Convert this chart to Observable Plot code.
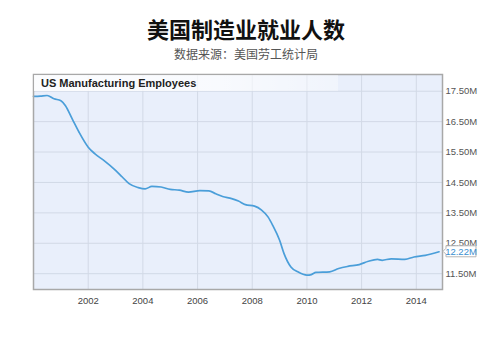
<!DOCTYPE html>
<html><head><meta charset="utf-8">
<script src="https://cdn.jsdelivr.net/npm/d3@7"></script>
<script src="https://cdn.jsdelivr.net/npm/@observablehq/plot@0.6"></script>
<style>
body{margin:0;background:#fff;}
#wrap{position:relative;width:500px;height:346px;overflow:hidden;font-family:"Liberation Sans",Arial,sans-serif;}
#title{position:absolute;top:16px;left:0;width:492px;text-align:center;font-weight:bold;font-size:22px;font-family:"Noto Sans CJK SC",sans-serif;color:#111;line-height:24px;}
#subtitle{position:absolute;top:47px;left:0;width:492px;text-align:center;font-size:12px;font-family:"Noto Sans CJK SC",sans-serif;color:#555;line-height:13px;}
#chart{position:absolute;top:66px;left:0;}
</style>
</head><body>
<div id="wrap">
  <div id="title">美国制造业就业人数</div>
  <div id="subtitle">数据来源：美国劳工统计局</div>
  <div id="chart"></div>
</div>
<script>
const chartLabel = "US Manufacturing Employees";
const months = ["2000-01","2000-04","2000-07","2000-10","2001-01","2001-03","2001-06","2001-09","2002-01","2002-04","2002-08","2003-01","2003-04","2003-07","2003-11","2004-02","2004-05","2004-09","2005-01","2005-05","2005-09","2006-02","2006-06","2006-09","2006-12","2007-04","2007-07","2007-10","2008-02","2008-05","2008-08","2008-10","2009-01","2009-03","2009-06","2009-09","2010-01","2010-03","2010-05","2010-11","2011-03","2011-07","2011-12","2012-04","2012-08","2012-10","2013-02","2013-08","2013-12","2014-05","2014-11"];
const employees = [17.33,17.34,17.36,17.25,17.19,17.03,16.59,16.15,15.66,15.44,15.22,14.90,14.68,14.46,14.33,14.29,14.37,14.35,14.27,14.25,14.18,14.23,14.22,14.13,14.04,13.97,13.89,13.77,13.72,13.60,13.36,13.09,12.60,12.16,11.72,11.56,11.45,11.47,11.54,11.56,11.67,11.74,11.80,11.91,11.97,11.94,11.99,11.97,12.05,12.10,12.22];
const yTicks = [11.5,12.5,13.5,14.5,15.5,16.5,17.5];
const xTickYears = [2002,2004,2006,2008,2010,2012,2014];
const lastLabel = "12.22M";

const parse = d3.utcParse("%Y-%m");
const data = months.map((m,i)=>({date:parse(m), value:employees[i]}));
const xTicks = xTickYears.map(y=>new Date(Date.UTC(y,0,1)));
const M = {top:8, right:58, bottom:57, left:33};

const chart = Plot.plot({
  width:500, height:280,
  marginTop:M.top, marginBottom:M.bottom, marginLeft:M.left, marginRight:M.right,
  style:{fontFamily:"Liberation Sans, Arial, sans-serif", background:"transparent"},
  x:{type:"utc", domain:[new Date(Date.UTC(2000,0,1)), new Date(Date.UTC(2014,11,17))]},
  y:{domain:[10.98,18.05]},
  marks:[
    Plot.frame({fill:"#e9effb", stroke:null}),
    Plot.gridY(yTicks,{stroke:"#d2d9e6", strokeOpacity:1}),
    Plot.gridX(xTicks,{stroke:"#d2d9e6", strokeOpacity:1}),
    Plot.line(data,{x:"date", y:"value", stroke:"#4a9ed9", strokeWidth:1.7, curve:"monotone-x"}),
    Plot.frame({stroke:"#a8a8a8", strokeWidth:1.5}),
    Plot.axisY(yTicks,{anchor:"right", tickSize:0, tickPadding:3, tickFormat:d=>d.toFixed(2)+"M", fill:"#555", fontSize:9.5, label:null}),
    Plot.axisX(xTicks,{anchor:"bottom", tickSize:0, tickPadding:8, tickFormat:d=>String(d.getUTCFullYear()), fill:"#444", fontSize:9.5, label:null})
  ]
});
document.getElementById("chart").appendChild(chart);

const svg = d3.select(chart);
const ys = chart.scale("y");
const defs = svg.append("defs");
const g = defs.append("linearGradient").attr("id","hdr").attr("x1","0").attr("x2","1").attr("y1","0").attr("y2","0");
g.append("stop").attr("offset","0").attr("stop-color","#fff").attr("stop-opacity",0.85);
g.append("stop").attr("offset","0.6").attr("stop-color","#fff").attr("stop-opacity",0.7);
g.append("stop").attr("offset","1").attr("stop-color","#fff").attr("stop-opacity",0.35);
svg.append("rect").attr("x",M.left+1).attr("y",M.top+1).attr("width",304).attr("height",16).attr("fill","url(#hdr)");
svg.append("text").attr("x",M.left+8).attr("y",M.top+13).attr("text-anchor","start").attr("font-size",11).attr("font-weight","bold")
  .attr("fill","#222").attr("font-family","Liberation Sans, Arial, sans-serif").text(chartLabel);

const last = data[data.length-1];
const px = 500 - M.right, py = ys.apply(last.value);
const box = svg.append("g");
box.append("path").attr("d",`M${px+1},${py} L${px+4},${py-3} L${px+4},${py-5.5} L${px+34},${py-5.5} L${px+34},${py+5.5} L${px+4},${py+5.5} L${px+4},${py+3} Z`)
  .attr("fill","#fff").attr("stroke","#b5b5b5").attr("stroke-width",1);
box.append("text").attr("x",px+19).attr("y",py+3.3).attr("text-anchor","middle").attr("font-size",9.5)
  .attr("fill","#3a8fd0").attr("font-family","Liberation Sans, Arial, sans-serif").text(lastLabel);
</script>
</body></html>
